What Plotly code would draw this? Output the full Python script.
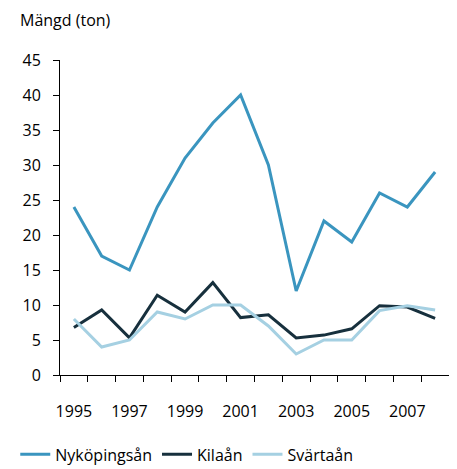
import plotly.graph_objects as go

years = list(range(1995, 2009))
nykopingsan = [24, 17, 15, 24, 31, 36, 40, 30, 12, 22, 19, 26, 24, 29]
kilaan = [6.8, 9.3, 5.3, 11.4, 9.0, 13.2, 8.2, 8.6, 5.3, 5.7, 6.6, 9.9, 9.7, 8.1]
svartaan = [8.0, 4.0, 5.0, 9.0, 8.0, 10.0, 10.0, 7.0, 3.0, 5.0, 5.0, 9.2, 9.9, 9.3]
x_labels = [1995, 1997, 1999, 2001, 2003, 2005, 2007]
y_ticks = [0, 5, 10, 15, 20, 25, 30, 35, 40, 45]

series = [
    ("Nyköpingsån", nykopingsan, "#3a95bf"),
    ("Kilaån", kilaan, "#17303d"),
    ("Svärtaån", svartaan, "#a5d0e2"),
]

fig = go.Figure()
for name, vals, col in series:
    fig.add_trace(go.Scatter(x=years, y=vals, mode="lines", name=name,
                             line=dict(color=col, width=3)))

font = dict(family="Open Sans, Liberation Sans, sans-serif", size=16, color="#000000")

# page body has an 8px margin; size the figure so the plot lands where the reference has it
fig.update_layout(
    width=449, height=461,
    margin=dict(l=52, r=8, t=52, b=94, autoexpand=False),
    plot_bgcolor="white", paper_bgcolor="white",
    font=font,
    showlegend=True,
    legend=dict(orientation="h", x=-0.115, xanchor="left", y=-0.252, yanchor="middle",
                font=dict(size=16), itemwidth=30, tracegroupgap=0),
    annotations=[dict(text="Mängd (ton)", xref="paper", yref="paper",
                      x=-0.108, y=1.127, xanchor="left", yanchor="middle",
                      showarrow=False, font=dict(size=16))],
)

fig.update_xaxes(
    range=[1994.5, 2008.5], tickvals=x_labels, ticktext=[str(v) for v in x_labels],
    ticks="outside", ticklen=22, tickcolor="rgba(0,0,0,0)",
    showgrid=False, zeroline=False,
    showline=True, linecolor="#000000", linewidth=1,
    minor=dict(ticks="outside", tickvals=[y - 0.5 for y in years] + [2008.5],
               ticklen=6, tickcolor="#000000", showgrid=False),
)
fig.update_yaxes(
    range=[0, 45], tickvals=y_ticks, ticks="outside", ticklen=6, tickcolor="#000000",
    showgrid=False, zeroline=False, showline=True, linecolor="#000000", linewidth=1,
    ticklabelstandoff=9,
)

fig.write_html("out.html")
